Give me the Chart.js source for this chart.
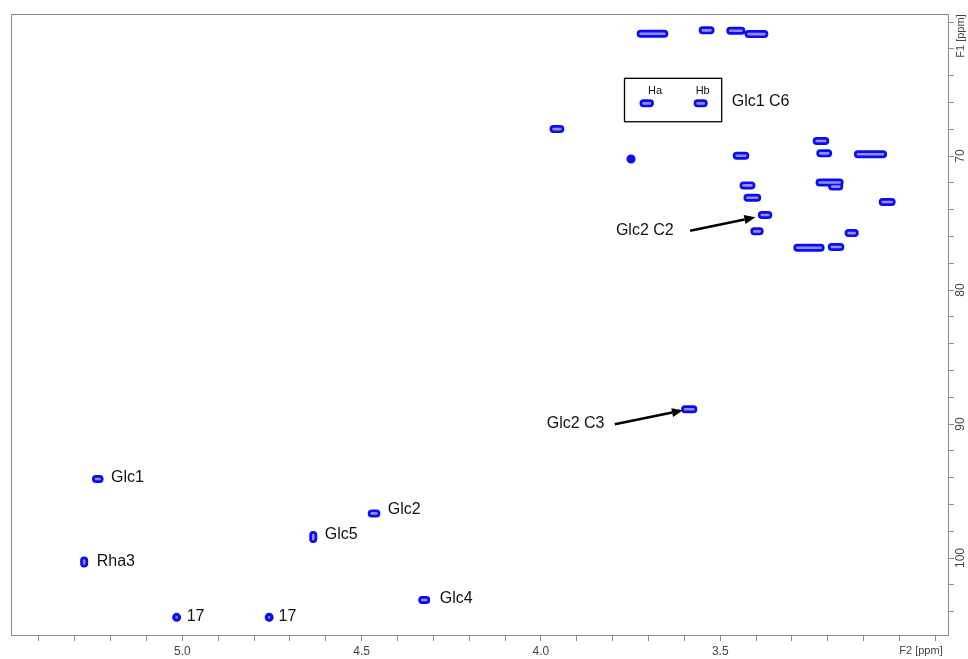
<!DOCTYPE html>
<html><head><meta charset="utf-8">
<script src="https://cdn.jsdelivr.net/npm/chart.js@4.4.1/dist/chart.umd.min.js"></script>
<style>html,body{margin:0;padding:0;background:#fff}#wrap{width:968px;height:659px;position:relative}</style>
</head><body><div id="wrap"><canvas id="c"></canvas></div>
<script>
// ---- axis ranges (ppm) ----
const f2Range = [5.478, 2.862];
const f1Range = [59.4, 105.82];
const xTickLabels = ['5.0', '4.5', '4.0', '3.5'];
const yTickLabels = [70, 80, 90, 100];

// ---- cross peaks (F2 = 1H ppm, F1 = 13C ppm), start/end of each contour ----
const peakF2Start = [3.722, 3.549, 3.472, 3.421, 3.714, 3.563, 3.965, 3.749, 3.454, 3.231,
                     3.221, 3.116, 3.435, 3.223, 3.188, 3.424, 3.384, 3.405, 3.047, 3.142,
                     3.285, 3.189, 3.598, 5.241, 4.472, 4.635, 5.274, 4.331, 5.016, 4.758];
const peakF2End   = [3.656, 3.527, 3.441, 3.377, 3.696, 3.546, 3.946, 3.749, 3.430, 3.207,
                     3.199, 3.046, 3.413, 3.167, 3.168, 3.397, 3.366, 3.390, 3.022, 3.125,
                     3.220, 3.165, 3.575, 5.231, 4.459, 4.635, 5.274, 4.320, 5.016, 4.758];
const peakF1Start = [60.87, 60.62, 60.65, 60.90, 66.07, 66.07, 67.99, 70.22, 69.98, 68.88,
                     69.80, 69.87, 72.19, 71.98, 72.28, 73.11, 74.40, 75.62, 73.43, 75.75,
                     76.84, 76.79, 88.90, 94.10, 96.67, 98.28, 100.19, 103.13, 104.43, 104.43];
const peakF1End   = [60.87, 60.62, 60.65, 60.90, 66.07, 66.07, 67.99, 70.22, 69.98, 68.88,
                     69.80, 69.87, 72.19, 71.98, 72.28, 73.11, 74.40, 75.62, 73.43, 75.75,
                     76.84, 76.79, 88.90, 94.10, 96.67, 98.58, 100.41, 103.13, 104.43, 104.43];
const solidPeaks = [7];          // drawn as a filled dot
const roundPeaks = [7, 28, 29];  // round contours

// ---- annotations ----
const labelText = ['Glc1', 'Glc2', 'Glc5', 'Rha3', 'Glc4', '17', '17', 'Glc1 C6', 'Glc2 C2', 'Glc2 C3'];
const labelF2   = [5.199, 4.427, 4.603, 5.239, 4.282, 4.988, 4.732, 3.468, 3.791, 3.984];
const labelF1   = [94.0, 96.42, 98.28, 100.30, 103.06, 104.40, 104.40, 65.94, 75.57, 90.0];
const boxText = ['Ha', 'Hb'];
const boxTextF2 = [3.682, 3.549];
const boxTextF1 = [65.13, 65.13];
const boxF2 = [3.767, 3.496];
const boxF1 = [64.20, 67.44];
const arrowFromF2 = [3.584, 3.794];
const arrowFromF1 = [75.57, 90.01];
const arrowToF2 = [3.402, 3.604];
const arrowToF1 = [74.57, 88.98];

function buildLine(include) {
  const pts = [];
  for (let i = 0; i < peakF2Start.length; i++) {
    if (!include(i)) continue;
    let x2 = peakF2End[i];
    if (x2 === peakF2Start[i] && peakF1End[i] === peakF1Start[i]) x2 -= 0.0004;
    pts.push({x: peakF2Start[i], y: peakF1Start[i]});
    pts.push({x: x2, y: peakF1End[i]});
    pts.push({x: x2, y: null});
  }
  return pts;
}

const blue = '#0c0cf0';
const common = {showLine: true, pointRadius: 0, pointHoverRadius: 0, borderCapStyle: 'round',
  borderJoinStyle: 'round', spanGaps: false, fill: false, tension: 0};

const decor = {
  id: 'decor',
  afterDraw(chart) {
    const {ctx, chartArea: a, scales: {x, y}} = chart;
    ctx.save();
    // frame
    ctx.strokeStyle = '#8c8c8c'; ctx.lineWidth = 1;
    ctx.strokeRect(a.left + 0.5, a.top + 0.5, a.right - a.left - 1, a.bottom - a.top - 1);
    // y tick labels (rotated)
    ctx.fillStyle = '#444';
    ctx.font = '12px "Liberation Sans", Arial, sans-serif';
    ctx.textAlign = 'center'; ctx.textBaseline = 'middle';
    yTickLabels.forEach(v => {
      ctx.save();
      ctx.translate(961, y.getPixelForValue(v));
      ctx.rotate(-Math.PI / 2);
      ctx.fillText(String(v), 0, 0);
      ctx.restore();
    });
    ctx.font = '11px "Liberation Sans", Arial, sans-serif';
    ctx.save(); ctx.translate(961, 36); ctx.rotate(-Math.PI / 2); ctx.fillText('F1 [ppm]', 0, 0); ctx.restore();
    ctx.fillText('F2 [ppm]', 921, 651);
    // box
    ctx.strokeStyle = '#000'; ctx.lineWidth = 1.3;
    const bx1 = x.getPixelForValue(boxF2[0]), bx2 = x.getPixelForValue(boxF2[1]);
    const by1 = y.getPixelForValue(boxF1[0]), by2 = y.getPixelForValue(boxF1[1]);
    ctx.strokeRect(bx1, by1, bx2 - bx1, by2 - by1);
    ctx.fillStyle = '#111';
    ctx.font = '11px "Liberation Sans", Arial, sans-serif';
    boxText.forEach((t, i) => ctx.fillText(t, x.getPixelForValue(boxTextF2[i]), y.getPixelForValue(boxTextF1[i])));
    // labels
    ctx.font = '16px "Liberation Sans", Arial, sans-serif';
    ctx.textAlign = 'left';
    labelText.forEach((t, i) => ctx.fillText(t, x.getPixelForValue(labelF2[i]), y.getPixelForValue(labelF1[i])));
    // arrows
    ctx.strokeStyle = '#000'; ctx.fillStyle = '#000'; ctx.lineWidth = 2.6; ctx.lineCap = 'butt';
    arrowFromF2.forEach((_, i) => {
      const x0 = x.getPixelForValue(arrowFromF2[i]), y0 = y.getPixelForValue(arrowFromF1[i]);
      const x1 = x.getPixelForValue(arrowToF2[i]), y1 = y.getPixelForValue(arrowToF1[i]);
      const ang = Math.atan2(y1 - y0, x1 - x0);
      const hl = 11, hw = 4.5;
      const bxp = x1 - hl * Math.cos(ang), byp = y1 - hl * Math.sin(ang);
      ctx.beginPath(); ctx.moveTo(x0, y0); ctx.lineTo(bxp, byp); ctx.stroke();
      ctx.beginPath();
      ctx.moveTo(x1, y1);
      ctx.lineTo(bxp + hw * Math.sin(ang), byp - hw * Math.cos(ang));
      ctx.lineTo(bxp - hw * Math.sin(ang), byp + hw * Math.cos(ang));
      ctx.closePath(); ctx.fill();
    });
    ctx.restore();
  }
};

new Chart(document.getElementById('c'), {
  type: 'scatter',
  data: {
    datasets: [
      Object.assign({}, common, {label: 'inner', order: 0, borderColor: '#8e8efa', borderWidth: 2.6,
        data: buildLine(i => !solidPeaks.includes(i))}),
      Object.assign({}, common, {label: 'outer', order: 1, borderColor: blue, borderWidth: 8,
        data: buildLine(i => !roundPeaks.includes(i))}),
      Object.assign({}, common, {label: 'round', order: 1, borderColor: blue, borderWidth: 9,
        data: buildLine(i => roundPeaks.includes(i))})
    ]
  },
  options: {
    responsive: true, maintainAspectRatio: false, animation: false,
    layout: {padding: {left: 11, top: 14, right: 0, bottom: 0}},
    plugins: {legend: {display: false}, tooltip: {enabled: false}},
    events: [],
    scales: {
      x: {
        type: 'linear', position: 'bottom', reverse: true,
        min: f2Range[1], max: f2Range[0],
        afterFit: s => { s.height = 23; },
        border: {display: false},
        grid: {display: true, drawOnChartArea: false, drawTicks: true, tickLength: 5, color: '#8c8c8c'},
        ticks: {
          stepSize: 0.1, includeBounds: false, autoSkip: false, maxRotation: 0, minRotation: 0, padding: 3,
          color: '#444', font: {family: '"Liberation Sans", Arial, sans-serif', size: 12},
          callback: v => { const s = (Math.round(v * 10) / 10).toFixed(1); return xTickLabels.includes(s) ? s : ''; }
        }
      },
      y: {
        type: 'linear', position: 'right', reverse: true,
        min: f1Range[0], max: f1Range[1],
        afterFit: s => { s.width = 19; },
        border: {display: false},
        grid: {display: true, drawOnChartArea: false, drawTicks: true, tickLength: 5, color: '#8c8c8c'},
        ticks: {stepSize: 2, includeBounds: false, autoSkip: false, display: false}
      }
    }
  },
  plugins: [decor]
});
</script>
</body></html>
